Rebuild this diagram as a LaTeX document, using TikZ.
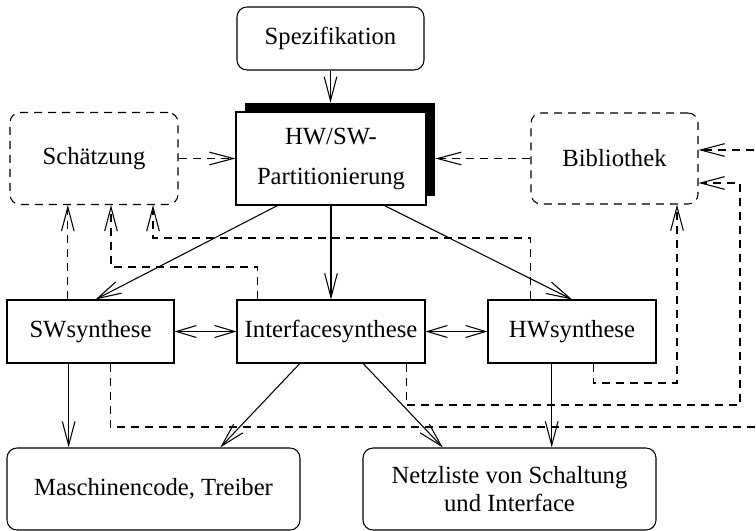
\documentclass[tikz,border=0pt]{standalone}
\usepackage{fontspec}
\setmainfont{Liberation Serif}
\usetikzlibrary{arrows.meta,calc}

\tikzset{
  lw/.style={line width=0.8pt},
  box/.style={lw, draw, fill=white, inner sep=0pt, align=center,
    font=\fontsize{18.5}{30}\selectfont},
  rbox/.style={box, rounded corners=7.5pt},
  dbox/.style={rbox, dashed, dash pattern=on 6pt off 4.5pt},
  arr/.style={lw, -{Straight Barb[length=18pt,width=9.5pt]}},
  biarr/.style={lw, {Straight Barb[length=15pt,width=9pt]}-{Straight Barb[length=15pt,width=9pt]}},
  dep/.style={arr, dash pattern=on 6pt off 4.5pt},
}

\begin{document}
\begin{tikzpicture}[x=0.75pt, y=-0.75pt]
  \useasboundingbox (0,0) rectangle (756,531);
  \clip (0,0) rectangle (756,531);

  % top: specification and partitioning (with heavy shadow)
  \node[rbox, minimum width=140.25pt, minimum height=47.25pt] (spec) at (330.5,38.5) {Spezifikation};
  \node[fill=black, inner sep=0pt, minimum width=142.5pt, minimum height=69.75pt] (shadow) at (340,149.5) {};
  \node[box, minimum width=142.5pt, minimum height=69.75pt] (part) at (331,158.5) {HW/SW-\\Partitionierung};

  % side boxes
  \node[dbox, minimum width=126pt, minimum height=69pt] (sch) at (94,158.5) {Schätzung};
  \node[dbox, minimum width=125.25pt, minimum height=68.25pt] (bib) at (614.5,158.5) {Bibliothek};

  % synthesis row
  \node[box, minimum width=125.25pt, minimum height=47.25pt] (sw) at (90.5,331.5) {SWsynthese};
  \node[box, minimum width=141pt, minimum height=47.25pt] (ifs) at (331,331.5) {Interfacesynthese};
  \node[box, minimum width=126pt, minimum height=47.25pt] (hw) at (572,331.5) {HWsynthese};

  % results
  \node[rbox, minimum width=219.75pt, minimum height=61.5pt] (mc) at (153.5,489) {Maschinencode, Treiber};
  \node[rbox, minimum width=219.75pt, minimum height=61.5pt, font=\fontsize{18.5}{20.5}\selectfont] (nl) at (509.5,489) {Netzliste von Schaltung\\und Interface};

  % solid flow
  \draw[arr] (spec.south) -- (spec.south |- shadow.north);
  \draw[arr] ($(part.south west)!0.22!(part.south east)$) -- ($(sw.north west)!0.53!(sw.north east)$);
  \draw[arr] (part.south) -- (ifs.north);
  \draw[arr] ($(part.south west)!0.78!(part.south east)$) -- (hw.north);
  \draw[biarr] (sw.east) -- (ifs.west);
  \draw[biarr] (ifs.east) -- (hw.west);

  \coordinate (swA) at ($(sw.south west)!0.37!(sw.south east)$);
  \draw[arr] (swA) -- (swA |- mc.north);
  \draw[arr] ($(ifs.south west)!0.335!(ifs.south east)$) -- ($(mc.north west)!0.727!(mc.north east)$);
  \draw[arr] ($(ifs.south west)!0.67!(ifs.south east)$) -- ($(nl.north west)!0.273!(nl.north east)$);
  \coordinate (hwA) at ($(hw.south west)!0.38!(hw.south east)$);
  \draw[arr] (hwA) -- (hwA |- nl.north);

  % estimation and library feedback
  \draw[dep] (sch.east) -- (part.west);
  \draw[dep] (bib.west) -- (bib.west -| shadow.east);

  \coordinate (swN) at ($(sw.north west)!0.365!(sw.north east)$);
  \draw[dep] (swN) -- (swN |- sch.south);

  \coordinate (ifsN) at ($(ifs.north west)!0.11!(ifs.north east)$);
  \coordinate (k1) at (111,267);
  \draw[dep] (ifsN) |- (k1) -- (k1 |- sch.south);

  \coordinate (hwN) at ($(hw.north west)!0.256!(hw.north east)$);
  \coordinate (k2) at (153,238);
  \draw[dep] (hwN) |- (k2) -- (k2 |- sch.south);

  \coordinate (hwS) at ($(hw.south west)!0.625!(hw.south east)$);
  \coordinate (k3) at (677,383);
  \draw[dep] (hwS) |- (k3) -- (k3 |- bib.south);

  \coordinate (ifsS) at ($(ifs.south west)!0.9!(ifs.south east)$);
  \coordinate (k4) at (740,405);
  \coordinate (k4t) at (740,183);
  \draw[dep] (ifsS) |- (k4) -- (k4t) -- (k4t -| bib.east);

  \coordinate (swS) at ($(sw.south west)!0.617!(sw.south east)$);
  \coordinate (k5) at (780,427);
  \coordinate (k5t) at (780,150);
  \draw[dep] (swS) |- (k5) -- (k5t) -- (k5t -| bib.east);
\end{tikzpicture}
\end{document}
